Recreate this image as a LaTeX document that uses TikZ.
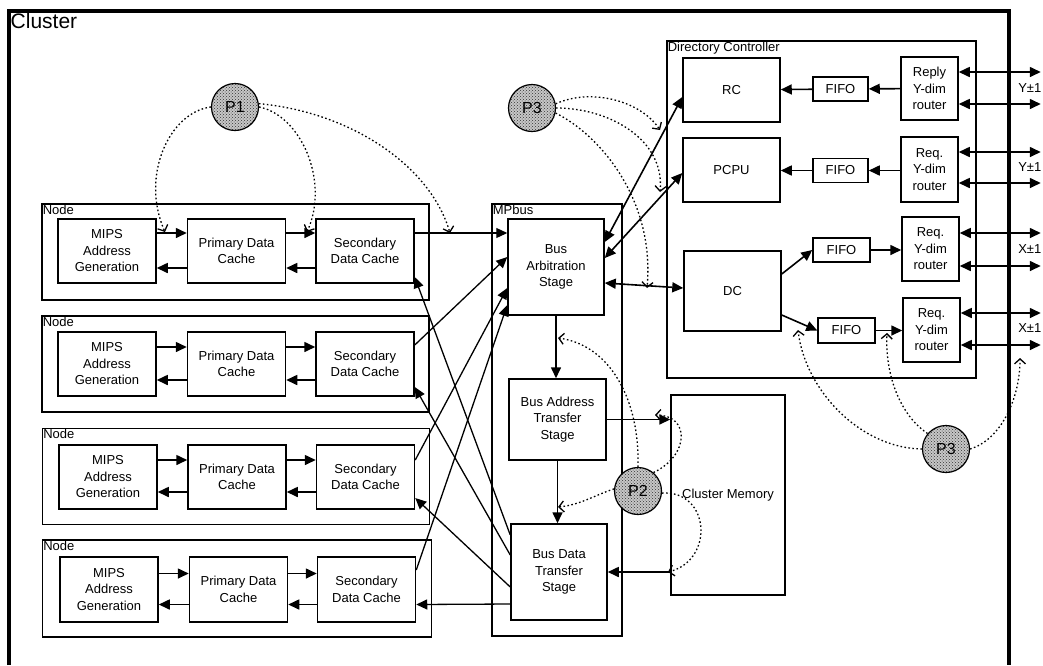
\documentclass[tikz,border=0pt]{standalone}
\usepackage{fontspec}
\setmainfont{Liberation Sans}
\usepackage{tikz}
\usetikzlibrary{arrows.meta,patterns}
\tikzstyle{blk} = [draw,line width=1.5pt,align=center,inner sep=0pt,font=\fontsize{13}{16.5}\selectfont]
\tikzstyle{frame} = [draw,line width=1.7pt,inner sep=0pt]
\tikzstyle{lbl} = [inner sep=1.5pt,font=\fontsize{13}{16}\selectfont]
\tikzstyle{proc} = [draw,circle,line width=1.2pt,minimum size=47pt,inner sep=0pt,preaction={fill=black!22},pattern=crosshatch dots,pattern color=black!80,font=\fontsize{16}{18}\selectfont]

\begin{document}
\begin{tikzpicture}[x=1pt,y=-1pt,
  post/.style={-{Triangle[length=11pt,width=10pt]},line width=1.6pt},
  both/.style={{Triangle[length=11pt,width=10pt]}-{Triangle[length=11pt,width=10pt]},line width=1.6pt},
  probe/.style={-{Straight Barb[length=5pt,width=11pt]},line width=1.3pt,dash pattern=on 1.6pt off 2.4pt}]
    \useasboundingbox (0,0) rectangle (1043,665);

    % cluster
    \draw[line width=3.2pt] (9,665) -- (9,11) -- (1009,11) -- (1009,665);
    \node[lbl,anchor=north west,font=\fontsize{21}{24}\selectfont] (cl) at (9,12) {Cluster};

    % nodes
    \node[frame,minimum width=387pt,minimum height=96pt] (nd1) at (235.5,252) {};
    \node[frame,minimum width=387pt,minimum height=96pt] (nd2) at (235.5,364) {};
    \node[frame,minimum width=387pt,minimum height=96pt] (nd3) at (236,476.5) {};
    \node[frame,minimum width=389pt,minimum height=97pt] (nd4) at (237,588.5) {};
    \node[lbl,anchor=north west] (ndl1) at (nd1.north west) {Node};
    \node[lbl,anchor=north west] (ndl2) at (nd2.north west) {Node};
    \node[lbl,anchor=north west] (ndl3) at (nd3.north west) {Node};
    \node[lbl,anchor=north west] (ndl4) at (nd4.north west) {Node};

    \node[blk,minimum width=98pt,minimum height=64pt] (mips1) at (107,251) {MIPS\\Address\\Generation};
    \node[blk,minimum width=98pt,minimum height=64pt] (prim1) at (236.5,251) {Primary Data\\Cache};
    \node[blk,minimum width=98pt,minimum height=64pt] (sec1) at (365,251) {Secondary\\Data Cache};
    \node[blk,minimum width=98pt,minimum height=64pt] (mips2) at (107,364) {MIPS\\Address\\Generation};
    \node[blk,minimum width=98pt,minimum height=64pt] (prim2) at (236.5,364) {Primary Data\\Cache};
    \node[blk,minimum width=98pt,minimum height=64pt] (sec2) at (365,364) {Secondary\\Data Cache};
    \node[blk,minimum width=98pt,minimum height=64pt] (mips3) at (108,477) {MIPS\\Address\\Generation};
    \node[blk,minimum width=98pt,minimum height=64pt] (prim3) at (237,477) {Primary Data\\Cache};
    \node[blk,minimum width=98pt,minimum height=64pt] (sec3) at (365.5,477) {Secondary\\Data Cache};
    \node[blk,minimum width=98pt,minimum height=65pt] (mips4) at (109,589.5) {MIPS\\Address\\Generation};
    \node[blk,minimum width=98pt,minimum height=65pt] (prim4) at (238.5,589.5) {Primary Data\\Cache};
    \node[blk,minimum width=98pt,minimum height=65pt] (sec4) at (366.5,589.5) {Secondary\\Data Cache};

    \draw[post] ([yshift=18pt]mips1.east) -- ([yshift=18pt]prim1.west);
    \draw[post] ([yshift=-17pt]prim1.west) -- ([yshift=-17pt]mips1.east);
    \draw[post] ([yshift=18pt]prim1.east) -- ([yshift=18pt]sec1.west);
    \draw[post] ([yshift=-17pt]sec1.west) -- ([yshift=-17pt]prim1.east);
    \draw[post] ([yshift=17pt]mips2.east) -- ([yshift=17pt]prim2.west);
    \draw[post] ([yshift=-16pt]prim2.west) -- ([yshift=-16pt]mips2.east);
    \draw[post] ([yshift=17pt]prim2.east) -- ([yshift=17pt]sec2.west);
    \draw[post] ([yshift=-16pt]sec2.west) -- ([yshift=-16pt]prim2.east);
    \draw[post] ([yshift=17pt]mips3.east) -- ([yshift=17pt]prim3.west);
    \draw[post] ([yshift=-15pt]prim3.west) -- ([yshift=-15pt]mips3.east);
    \draw[post] ([yshift=17pt]prim3.east) -- ([yshift=17pt]sec3.west);
    \draw[post] ([yshift=-15pt]sec3.west) -- ([yshift=-15pt]prim3.east);
    \draw[post] ([yshift=16pt]mips4.east) -- ([yshift=16pt]prim4.west);
    \draw[post] ([yshift=-15pt]prim4.west) -- ([yshift=-15pt]mips4.east);
    \draw[post] ([yshift=16pt]prim4.east) -- ([yshift=16pt]sec4.west);
    \draw[post] ([yshift=-15pt]sec4.west) -- ([yshift=-15pt]prim4.east);

    % MPbus
    \node[frame,minimum width=130pt,minimum height=432pt] (bus) at (557,420) {};
    \node[lbl,anchor=north west] (busl) at (bus.north west) {MPbus};
    \node[blk,minimum width=96pt,minimum height=96pt] (arb) at (556,267) {Bus\\Arbitration\\Stage};
    \node[blk,minimum width=97pt,minimum height=81pt] (addr) at (557.5,419.5) {Bus Address\\Transfer\\Stage};
    \node[blk,minimum width=96pt,minimum height=96pt] (data) at (559,572) {Bus Data\\Transfer\\Stage};
    \node[blk,minimum width=114pt,minimum height=200pt] (mem) at (728,495) {Cluster Memory};

    \draw[post] (arb.south) -- (arb.south |- addr.north);
    \draw[post] (addr.south) -- (addr.south |- data.north);
    \draw[post] (addr.east) -- (addr.east -| mem.west);
    \draw[post] (mem.west |- data.east) -- (data.east);

    \draw[post,line width=1.1pt] ([yshift=18pt]sec1.east) -- ([yshift=34pt]arb.west);
    \draw[post,line width=1.3pt] ([yshift=19pt]sec2.east) -- ([yshift=10pt]arb.west);
    \draw[post,line width=1.3pt] ([yshift=17pt]sec3.east) -- ([yshift=-21pt]arb.west);
    \draw[post,line width=1.3pt] ([yshift=19.5pt]sec4.east) -- ([yshift=-38pt]arb.west);
    \draw[post,line width=1.3pt] ([yshift=37pt]data.west) -- ([yshift=-26pt]sec1.east);
    \draw[post,line width=1.3pt] ([yshift=17pt]data.west) -- ([yshift=-23pt]sec2.east);
    \draw[post,line width=1.3pt] ([yshift=-15pt]data.west) -- ([yshift=-21pt]sec3.east);
    \draw[post,line width=1.3pt] ([yshift=-32pt]data.west) -- ([yshift=-15pt]sec4.east);

    % directory controller
    \node[frame,minimum width=309pt,minimum height=337pt] (dir) at (821.5,209.5) {};
    \node[lbl,anchor=north west] (dirl) at (dir.north west) {Directory Controller};
    \node[blk,minimum width=97pt,minimum height=64pt] (rc) at (731.5,90) {RC};
    \node[blk,minimum width=97pt,minimum height=64pt] (pcpu) at (731.5,170) {PCPU};
    \node[blk,minimum width=97pt,minimum height=80pt] (dc) at (732.5,291) {DC};
    \node[blk,minimum width=55pt,minimum height=24pt] (fifo1) at (840.5,89) {FIFO};
    \node[blk,minimum width=55pt,minimum height=24pt] (fifo2) at (840.5,170.5) {FIFO};
    \node[blk,minimum width=57pt,minimum height=24pt] (fifo3) at (841.5,250) {FIFO};
    \node[blk,minimum width=57pt,minimum height=25pt] (fifo4) at (846.5,330.5) {FIFO};
    \node[blk,minimum width=57pt,minimum height=63pt] (rtr1) at (929.5,88.5) {Reply\\Y-dim\\router};
    \node[blk,minimum width=57pt,minimum height=65pt] (rtr2) at (929.5,169.5) {Req.\\Y-dim\\router};
    \node[blk,minimum width=57pt,minimum height=64pt] (rtr3) at (930.5,249) {Req.\\Y-dim\\router};
    \node[blk,minimum width=57pt,minimum height=64pt] (rtr4) at (931.5,330) {Req.\\Y-dim\\router};

    \draw[post] (rtr1) -- (fifo1);
    \draw[post] (fifo1) -- (rc);
    \draw[post] (rtr2.west |- fifo2) -- (fifo2);
    \draw[post] (fifo2) -- (fifo2 -| pcpu.east);
    \draw[post] ([yshift=17pt]dc.east) -- (fifo3.west);
    \draw[post] ([yshift=-24pt]dc.east) -- (fifo4.west);
    \draw[post] (fifo3) -- (fifo3 -| rtr3.west);
    \draw[post] (fifo4) -- (fifo4 -| rtr4.west);

    \draw[both] ([yshift=25pt]arb.east) -- ([yshift=-7pt]rc.west);
    \draw[both] ([yshift=9pt]arb.east) -- ([yshift=-3pt]pcpu.west);
    \draw[both] ([yshift=-16pt]arb.east) -- ([yshift=3pt]dc.west);

    \draw[both] ([yshift=16.5pt]rtr1.east) -- ++(82,0);
    \draw[both] ([yshift=-15.5pt]rtr1.east) -- ++(82,0);
    \draw[both] ([yshift=17.5pt]rtr2.east) -- ++(82,0);
    \draw[both] ([yshift=-13.5pt]rtr2.east) -- ++(82,0);
    \draw[both] ([yshift=16pt]rtr3.east) -- ++(81,0);
    \draw[both] ([yshift=-17pt]rtr3.east) -- ++(81,0);
    \draw[both] ([yshift=17pt]rtr4.east) -- ++(80,0);
    \draw[both] ([yshift=-15pt]rtr4.east) -- ++(80,0);
    \node[lbl,anchor=east] (ylab1) at (1043,88) {Y±1};
    \node[lbl,anchor=east] (ylab2) at (1043,167) {Y±1};
    \node[lbl,anchor=east] (xlab1) at (1043,249) {X±1};
    \node[lbl,anchor=east] (xlab2) at (1043,328) {X±1};

    % processes
    \node[proc] (p1) at (235,107) {P1};
    \node[proc] (p3) at (532,108) {P3};
    \node[proc] (p2) at (638,491) {P2};
    \node[proc] (p3b) at (946,449) {P3};

    \coordinate (h1) at (165,232);
    \coordinate (h2) at (307,232);
    \coordinate (h3) at (450,233);
    \coordinate (h4) at (660,130);
    \coordinate (h5) at (660,192);
    \coordinate (h6) at (647,288);
    \coordinate (h7) at (558,338);
    \coordinate (h8) at (655,415);
    \coordinate (h9) at (558,507);
    \coordinate (h10) at (668,572);
    \coordinate (h11) at (798,330);
    \coordinate (h12) at (887,333);
    \coordinate (h13) at (1020,358);

    \draw[probe] (p1.180) .. controls (170,112) and (140,175) .. (h1);
    \draw[probe] (p1.0) .. controls (300,115) and (330,180) .. (h2);
    \draw[probe] (p1.8) .. controls (350,112) and (430,165) .. (h3);
    \draw[probe] (p3.10) .. controls (590,88) and (640,100) .. (h4);
    \draw[probe] (p3.0) .. controls (610,108) and (665,140) .. (h5);
    \draw[probe] (p3.-12) .. controls (600,135) and (655,200) .. (h6);
    \draw[probe] (p2.90) .. controls (640,400) and (610,345) .. (h7);
    \draw[probe] (p2.50) .. controls (690,455) and (690,415) .. (h8);
    \draw[probe] (p2.175) .. controls (595,495) and (580,505) .. (h9);
    \draw[probe] (p2.-5) .. controls (710,490) and (715,560) .. (h10);
    \draw[probe] (p3b.180) .. controls (860,448) and (805,390) .. (h11);
    \draw[probe] (p3b.140) .. controls (900,415) and (885,375) .. (h12);
    \draw[probe] (p3b.0) .. controls (1000,440) and (1020,400) .. (h13);

\end{tikzpicture}
\end{document}
